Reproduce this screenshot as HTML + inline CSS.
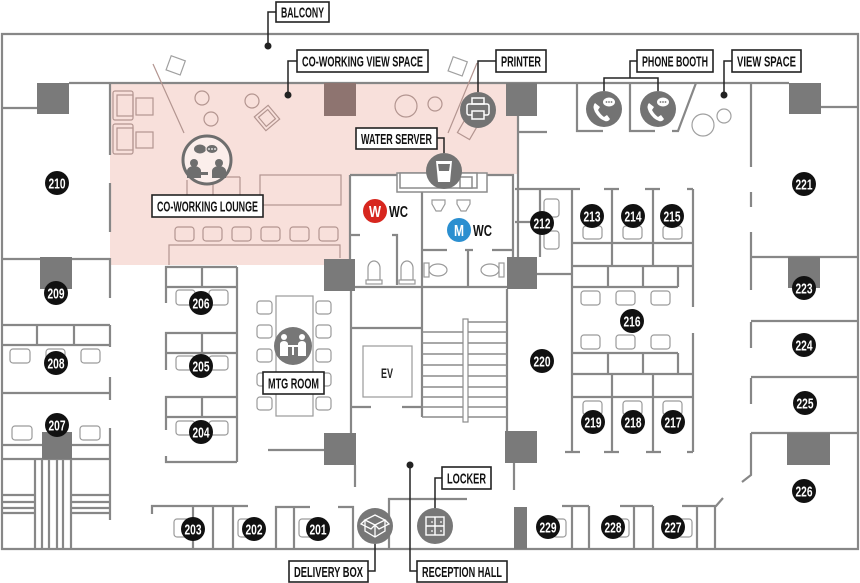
<!DOCTYPE html>
<html><head><meta charset="utf-8"><style>
html,body{margin:0;padding:0;background:#fff;}
svg{display:block}
text{font-family:"Liberation Sans Narrow","Liberation Sans",sans-serif;font-weight:bold;}
</style></head><body>
<svg width="860" height="583" viewBox="0 0 860 583" xmlns="http://www.w3.org/2000/svg">
<rect width="860" height="583" fill="#fff"/>
<polygon points="110,83 517,83 517,174 350,174 350,265 110,265" fill="#f8e0db"/>

<g stroke="#878787" stroke-width="2.2" fill="none">
<path d="M2,34 H858 V549 H2 Z"/>
<path d="M69,83 H789 M2,108 H37 M821,107 H858"/>
<path d="M110,83 V155 M110,183 V232 M110,258 V298 M110,325 V347 M110,377 V400 M110,428 V520"/>
<path d="M2,259 H110 M2,325 H110 M2,345 H110 M37,325 V345 M74,325 V345"/>
<path d="M2,393 H110 M2,445 H43 M72,445 H110 M2,459 H110"/>
<path d="M35,459 V549 M42,459 V549 M49,459 V549 M57,459 V549 M63,459 V549 M71,459 V549"/>
<path d="M2,495 H35 M2,502 H35 M2,508 H35 M2,513 H35 M71,495 H110 M71,502 H110 M71,508 H110 M71,513 H110"/>
<path d="M166,303 V267 H237 M166,287 H237 M202,267 V287"/>
<path d="M166,370 V333 H237 M166,353 H237 M202,333 V353"/>
<path d="M166,430 V397 H237 M166,417 H237 M202,397 V417 M166,456 V462 H237"/>
<path d="M237,267 V462"/>
<path d="M351,287 V433 M422,287 V417 M351,328 H422 M351,407 H371 M402,407 H422"/>
<path d="M268,450 H324 M355,465 V487 M389,549 V499 H467"/>
<path d="M276,549 V507 H310 M338,507 H353 V549 M294,507 V549"/>
<path d="M152,514 V506 H248 M193,506 V549 M213,506 V549 M233,506 V549"/>
<path d="M507,289 V431 M514,463 V490"/>
<path d="M350,175 V259 M350,175 H397 M487,175 H513 V257 M422,192 V287 M350,287 H507"/>
<path d="M397,285 V235 H392 M350,235 H360 M422,250 H447 M465,250 H473 M492,250 H513 M468,250 V287"/>
<path d="M518,116 V257 M518,132 H547"/>
<path d="M515,189 H580 M540,189 V257 M515,222 H540 M537,274 H572 M572,189 V452"/>
<path d="M604,189 H619 M645,189 H660 M687,189 H693 M612,189 V265 M653,189 V265 M693,189 V307 M572,243 H693 M572,266 H693"/>
<path d="M608,266 V287 M643,266 V287 M678,266 V287 M572,287 H678 M572,353 H678 M608,353 V374 M643,353 V374 M678,353 V374 M572,374 H693 M693,333 V452"/>
<path d="M572,397 H693 M612,374 V452 M653,374 V452 M565,452 H580 M604,452 H619 M646,452 H661 M687,452 H693"/>
<path d="M751,83 V167 M751,192 V207 M751,232 V290 M751,322 V348 M751,378 V404"/>
<path d="M751,257 H858 M751,321 H858 M751,377 H858 M751,433 H858 M751,433 V475 L742,482 M723,498 L716,506 H682 M715,506 V549 M697,506 V549"/>
<path d="M620,506 H653 M634,506 V549 M653,506 V549 M562,506 H589 M572,506 V549 M589,506 V549"/>
<path d="M577,83 V131 H603 M630,83 V131 H655 M672,131 H678 L696,83"/>
</g>

<g fill="#7a7a7a">
<rect x="37" y="83" width="32" height="31"/>
<rect x="506" y="83" width="31" height="33"/>
<rect x="789" y="83" width="32" height="31"/>
<rect x="40" y="257" width="32" height="32"/>
<rect x="42" y="432" width="30" height="27"/>
<rect x="324" y="259" width="31" height="32"/>
<rect x="507" y="257" width="30" height="32"/>
<rect x="324" y="433" width="32" height="32"/>
<rect x="505" y="431" width="32" height="32"/>
<rect x="788" y="257" width="32" height="31"/>
<rect x="787" y="433" width="43" height="32"/>
<rect x="514" y="507" width="13" height="42"/>
</g>
<rect x="324" y="83" width="32" height="33" fill="#8e7470"/>

<g stroke="#b39590" stroke-width="1.2" fill="none">
<rect x="113" y="91" width="20" height="29" rx="2"/><rect x="117" y="95" width="16" height="21"/>
<rect x="113" y="124" width="20" height="30" rx="2"/><rect x="117" y="128" width="16" height="22"/>
<rect x="136" y="98" width="17" height="17"/><rect x="136" y="132" width="17" height="16"/>
<circle cx="202" cy="98" r="7"/><circle cx="211" cy="119" r="7"/><circle cx="252" cy="101" r="7"/>
<circle cx="406" cy="106" r="11"/><circle cx="435" cy="104" r="7"/>
<g transform="rotate(-40 267 118)"><rect x="258" y="109" width="18" height="18"/><rect x="261" y="112" width="12" height="12"/></g>
<line x1="153" y1="64" x2="184" y2="133"/>
<line x1="448" y1="133" x2="477" y2="63"/>
<g transform="rotate(30 467 130)"><rect x="460" y="123" width="14" height="14"/></g>
<rect x="175" y="227" width="19" height="14" rx="3"/><rect x="203" y="227" width="19" height="14" rx="3"/>
<rect x="232" y="227" width="19" height="14" rx="3"/><rect x="261" y="227" width="19" height="14" rx="3"/>
<rect x="290" y="227" width="19" height="14" rx="3"/><rect x="319" y="227" width="19" height="14" rx="3"/>
<path d="M169,265 V245 H340 V258"/>
<path d="M187,180 V195 M213,177 V195 M240,177 V195 M213,177 H240"/>
<rect x="260" y="175" width="81" height="30"/>
</g>
<g stroke="#a0a0a0" stroke-width="1.2" fill="#fff">
<g transform="rotate(20 176 66)"><rect x="168" y="58" width="15" height="15"/></g>
<g transform="rotate(20 458 67)"><rect x="450" y="59" width="15" height="15"/></g>
<circle cx="703" cy="125" r="11" fill="none"/><circle cx="724" cy="116" r="7" fill="none"/>
</g>

<g stroke="#8c8c8c" stroke-width="1.5" fill="#fff">
<rect x="397" y="173" width="90" height="19"/>
<rect x="400" y="173" width="77" height="15"/>
<rect x="460" y="177" width="12" height="11"/>
</g>

<g stroke="#9a9a9a" stroke-width="1.2" fill="#fff">
<rect x="176" y="290" width="19" height="15" rx="3"/><rect x="209" y="290" width="19" height="15" rx="3"/>
<rect x="176" y="356" width="19" height="14" rx="3"/><rect x="209" y="356" width="19" height="14" rx="3"/>
<rect x="176" y="421" width="19" height="14" rx="3"/><rect x="209" y="421" width="19" height="14" rx="3"/>
<rect x="10" y="349" width="20" height="14" rx="3"/><rect x="46" y="349" width="19" height="14" rx="3"/><rect x="81" y="349" width="19" height="14" rx="3"/>
<rect x="12" y="426" width="20" height="14" rx="3"/><rect x="80" y="426" width="20" height="14" rx="3"/>
<rect x="276" y="296" width="37" height="120"/>
<rect x="257" y="301" width="15" height="13" rx="3"/><rect x="257" y="325" width="15" height="13" rx="3"/><rect x="257" y="349" width="15" height="13" rx="3"/><rect x="257" y="373" width="15" height="13" rx="3"/><rect x="257" y="397" width="15" height="13" rx="3"/>
<rect x="316" y="301" width="15" height="13" rx="3"/><rect x="316" y="325" width="15" height="13" rx="3"/><rect x="316" y="349" width="15" height="13" rx="3"/><rect x="316" y="373" width="15" height="13" rx="3"/><rect x="316" y="397" width="15" height="13" rx="3"/>
<rect x="544" y="199" width="15" height="18" rx="3"/><rect x="544" y="231" width="15" height="18" rx="3"/>
<rect x="583" y="226" width="19" height="13" rx="3"/><rect x="623" y="226" width="19" height="13" rx="3"/><rect x="663" y="226" width="19" height="13" rx="3"/>
<rect x="581" y="291" width="19" height="14" rx="3"/><rect x="616" y="291" width="19" height="14" rx="3"/><rect x="651" y="291" width="19" height="14" rx="3"/>
<rect x="581" y="335" width="19" height="14" rx="3"/><rect x="616" y="335" width="19" height="14" rx="3"/><rect x="651" y="335" width="19" height="14" rx="3"/>
<rect x="583" y="401" width="19" height="14" rx="3"/><rect x="623" y="401" width="19" height="14" rx="3"/><rect x="663" y="401" width="19" height="14" rx="3"/>
<rect x="174" y="519" width="19" height="18" rx="3"/><rect x="238" y="519" width="19" height="18" rx="3"/><rect x="299" y="519" width="19" height="18" rx="3"/>
<rect x="553" y="519" width="13" height="18" rx="3"/><rect x="617" y="519" width="12" height="18" rx="3"/><rect x="678" y="519" width="14" height="18" rx="3"/>
<path d="M368,280 V268 a6,7 0 0 1 12,0 V280 Z"/><rect x="366" y="280" width="16" height="4"/>
<path d="M401,280 V268 a6,7 0 0 1 12,0 V280 Z"/><rect x="399" y="280" width="16" height="4"/>
<path d="M432,200 H445 V204 L441,211 H436 L432,204 Z"/><path d="M457,200 H470 V204 L466,211 H461 L457,204 Z"/>
<ellipse cx="438" cy="270" rx="9" ry="6"/><rect x="424" y="263" width="5" height="14"/>
<ellipse cx="490" cy="270" rx="9" ry="6"/><rect x="499" y="263" width="5" height="14"/>
<rect x="363" y="346" width="49" height="51"/>
</g>
<g stroke="#8c8c8c" stroke-width="1.5">
<path d="M468,322 H507 M422,332 H507 M422,343 H507 M422,354 H507 M422,365 H507 M422,376 H507 M422,387 H507 M422,397 H507 M422,407 H507 M422,417 H507"/>
</g>
<rect x="463" y="319" width="5" height="103" fill="#fff" stroke="#8c8c8c" stroke-width="1.2"/>
<text x="381" y="378" font-size="14" fill="#222" textLength="12" lengthAdjust="spacingAndGlyphs">EV</text>

<circle cx="375" cy="211" r="12" fill="#d7261e"/>
<text x="369" y="217" font-size="16" fill="#fff" textLength="12" lengthAdjust="spacingAndGlyphs">W</text>
<text x="389" y="217" font-size="16" fill="#111" textLength="19" lengthAdjust="spacingAndGlyphs">WC</text>
<circle cx="459" cy="230" r="12" fill="#2b8fd0"/>
<text x="454" y="236" font-size="16" fill="#fff" textLength="10" lengthAdjust="spacingAndGlyphs">M</text>
<text x="473" y="236" font-size="16" fill="#111" textLength="19" lengthAdjust="spacingAndGlyphs">WC</text>

<g>
<circle cx="207" cy="160" r="24" fill="#fbeeeb" stroke="#6e6e6e" stroke-width="3"/>
<ellipse cx="200" cy="149" rx="6" ry="4.5" fill="#6e6e6e"/>
<ellipse cx="212" cy="149" rx="6" ry="4.5" fill="#6e6e6e" stroke="#fbeeeb" stroke-width="1"/>
<circle cx="209" cy="149" r="0.9" fill="#fff"/><circle cx="212" cy="149" r="0.9" fill="#fff"/><circle cx="215" cy="149" r="0.9" fill="#fff"/>
<circle cx="194" cy="163" r="4" fill="#6e6e6e"/><path d="M187,178 V171 a7,5 0 0 1 14,0 V178 Z" fill="#6e6e6e"/>
<circle cx="219" cy="163" r="4" fill="#6e6e6e"/><path d="M212,178 V171 a7,5 0 0 1 14,0 V178 Z" fill="#6e6e6e"/>
<rect x="196" y="172" width="12" height="3" fill="#6e6e6e"/>
<circle cx="478" cy="110" r="18" fill="#737373"/>
<rect x="472" y="98" width="12" height="6" fill="none" stroke="#fff" stroke-width="1.5"/>
<rect x="467" y="104" width="22" height="11" rx="2" fill="none" stroke="#fff" stroke-width="1.5"/>
<rect x="472" y="111" width="12" height="8" fill="#737373" stroke="#fff" stroke-width="1.5"/>
<circle cx="444" cy="171" r="18" fill="#737373"/>
<path d="M436,161 H452 L450,182 H438 Z" fill="#fff"/>
<path d="M438,164 H450 L449,171 H439 Z" fill="#737373"/>
<circle cx="604" cy="109" r="18" fill="#737373"/>
<circle cx="658" cy="109" r="18" fill="#737373"/>
<g fill="#fff">
<path d="M595,103 q-3,3 0,9 q4,7 10,9 q3,1 5,-2 l-3,-4 l-3,2 q-4,-3 -6,-7 l2,-3 z"/>
<ellipse cx="609" cy="102" rx="6" ry="4.5"/>
<path d="M649,103 q-3,3 0,9 q4,7 10,9 q3,1 5,-2 l-3,-4 l-3,2 q-4,-3 -6,-7 l2,-3 z"/>
<ellipse cx="663" cy="102" rx="6" ry="4.5"/>
</g>
<g fill="#737373"><circle cx="606.5" cy="102" r="0.9"/><circle cx="609" cy="102" r="0.9"/><circle cx="611.5" cy="102" r="0.9"/>
<circle cx="660.5" cy="102" r="0.9"/><circle cx="663" cy="102" r="0.9"/><circle cx="665.5" cy="102" r="0.9"/></g>
<circle cx="293" cy="346" r="19" fill="#777"/>
<g fill="#fff">
<circle cx="284" cy="337" r="3"/><path d="M280,356 V344 a4,3 0 0 1 8,0 V356 Z"/>
<circle cx="302" cy="337" r="3"/><path d="M298,356 V344 a4,3 0 0 1 8,0 V356 Z"/>
<rect x="287" y="345" width="12" height="2"/><rect x="292" y="347" width="2" height="8"/>
</g>
<circle cx="375" cy="526" r="18" fill="#777"/>
<g fill="none" stroke="#fff" stroke-width="1.3">
<path d="M375,515 L385,520 L375,525 L365,520 Z"/>
<path d="M365,520 V531 L375,537 L385,531 V520 M375,525 V537"/>
<path d="M365,520 L361,524 L371,529 L375,525 M385,520 L389,524 L379,529 L375,525"/>
</g>
<circle cx="435" cy="526" r="18" fill="#777"/>
<g fill="none" stroke="#fff" stroke-width="1.4">
<rect x="426" y="517" width="18" height="18"/>
<path d="M435,517 V535 M426,526 H444"/>
</g>
<g fill="#fff"><circle cx="432" cy="522" r="0.9"/><circle cx="441" cy="522" r="0.9"/><circle cx="432" cy="531" r="0.9"/><circle cx="441" cy="531" r="0.9"/></g>
</g>

<g stroke="#222" stroke-width="1.5" fill="none">
<path d="M276,12 H268 V46"/>
<path d="M297,61 H288 V95"/>
<path d="M496,61 H478 V92"/>
<path d="M637,61 H630 V78 M604,91 V78 H658 V91"/>
<path d="M732,61 H724 V95"/>
<path d="M437,138 H444 V153"/>
<path d="M442,478 H435 V508"/>
<path d="M375,544 V571 H368"/>
<path d="M410,465 V571 H417"/>
</g>
<g fill="#222">
<circle cx="268" cy="46" r="3.5"/><circle cx="288" cy="95" r="3.5"/><circle cx="724" cy="95" r="3.5"/><circle cx="410" cy="465" r="3.5"/>
</g>

<g fill="#fff" stroke="#222" stroke-width="1.6">
<rect x="276" y="2" width="53" height="20"/>
<rect x="297" y="50" width="131" height="22"/>
<rect x="496" y="50" width="50" height="22"/>
<rect x="637" y="50" width="76" height="22"/>
<rect x="732" y="50" width="69" height="22"/>
<rect x="356" y="128" width="81" height="21"/>
<rect x="152" y="195" width="111" height="22"/>
<rect x="263" y="372" width="61" height="22"/>
<rect x="442" y="467" width="49" height="22"/>
<rect x="289" y="561" width="79" height="21"/>
<rect x="417" y="561" width="90" height="21"/>
</g>
<g fill="#111" font-size="15">
<text x="281" y="17.5" textLength="43" lengthAdjust="spacingAndGlyphs">BALCONY</text>
<text x="302" y="66.5" textLength="121" lengthAdjust="spacingAndGlyphs">CO-WORKING VIEW SPACE</text>
<text x="501" y="66.5" textLength="40" lengthAdjust="spacingAndGlyphs">PRINTER</text>
<text x="642" y="66.5" textLength="66" lengthAdjust="spacingAndGlyphs">PHONE BOOTH</text>
<text x="737" y="66.5" textLength="59" lengthAdjust="spacingAndGlyphs">VIEW SPACE</text>
<text x="361" y="144" textLength="71" lengthAdjust="spacingAndGlyphs">WATER SERVER</text>
<text x="157" y="211.5" textLength="101" lengthAdjust="spacingAndGlyphs">CO-WORKING LOUNGE</text>
<text x="268" y="388.5" textLength="51" lengthAdjust="spacingAndGlyphs">MTG ROOM</text>
<text x="447" y="483.5" textLength="39" lengthAdjust="spacingAndGlyphs">LOCKER</text>
<text x="294" y="577" textLength="69" lengthAdjust="spacingAndGlyphs">DELIVERY BOX</text>
<text x="422" y="577" textLength="80" lengthAdjust="spacingAndGlyphs">RECEPTION HALL</text>
</g>

<g fill="#111">
<circle cx="57" cy="183" r="12"/><circle cx="56" cy="293" r="12"/><circle cx="56" cy="363" r="12"/><circle cx="57" cy="425" r="12"/>
<circle cx="201" cy="303" r="12"/><circle cx="201" cy="366" r="12"/><circle cx="201" cy="432" r="12"/>
<circle cx="193" cy="529" r="12"/><circle cx="254" cy="529" r="12"/><circle cx="318" cy="529" r="12"/>
<circle cx="548" cy="527" r="12"/><circle cx="613" cy="527" r="12"/><circle cx="673" cy="527" r="12"/>
<circle cx="542" cy="223" r="12"/><circle cx="592" cy="216" r="12"/><circle cx="633" cy="216" r="12"/><circle cx="672" cy="216" r="12"/>
<circle cx="632" cy="321" r="12"/><circle cx="542" cy="361" r="12"/>
<circle cx="593" cy="422" r="12"/><circle cx="633" cy="422" r="12"/><circle cx="673" cy="422" r="12"/>
<circle cx="804" cy="184" r="12"/><circle cx="804" cy="288" r="12"/><circle cx="804" cy="345" r="12"/><circle cx="805" cy="403" r="12"/><circle cx="804" cy="491" r="12"/>
</g>
<g fill="#fff" font-size="15">
<text x="48.5" y="188.5" textLength="17" lengthAdjust="spacingAndGlyphs">210</text>
<text x="47.5" y="298.5" textLength="17" lengthAdjust="spacingAndGlyphs">209</text>
<text x="47.5" y="368.5" textLength="17" lengthAdjust="spacingAndGlyphs">208</text>
<text x="48.5" y="430.5" textLength="17" lengthAdjust="spacingAndGlyphs">207</text>
<text x="192.5" y="308.5" textLength="17" lengthAdjust="spacingAndGlyphs">206</text>
<text x="192.5" y="371.5" textLength="17" lengthAdjust="spacingAndGlyphs">205</text>
<text x="192.5" y="437.5" textLength="17" lengthAdjust="spacingAndGlyphs">204</text>
<text x="184.5" y="534.5" textLength="17" lengthAdjust="spacingAndGlyphs">203</text>
<text x="245.5" y="534.5" textLength="17" lengthAdjust="spacingAndGlyphs">202</text>
<text x="309.5" y="534.5" textLength="17" lengthAdjust="spacingAndGlyphs">201</text>
<text x="539.5" y="532.5" textLength="17" lengthAdjust="spacingAndGlyphs">229</text>
<text x="604.5" y="532.5" textLength="17" lengthAdjust="spacingAndGlyphs">228</text>
<text x="664.5" y="532.5" textLength="17" lengthAdjust="spacingAndGlyphs">227</text>
<text x="533.5" y="228.5" textLength="17" lengthAdjust="spacingAndGlyphs">212</text>
<text x="583.5" y="221.5" textLength="17" lengthAdjust="spacingAndGlyphs">213</text>
<text x="624.5" y="221.5" textLength="17" lengthAdjust="spacingAndGlyphs">214</text>
<text x="663.5" y="221.5" textLength="17" lengthAdjust="spacingAndGlyphs">215</text>
<text x="623.5" y="326.5" textLength="17" lengthAdjust="spacingAndGlyphs">216</text>
<text x="533.5" y="366.5" textLength="17" lengthAdjust="spacingAndGlyphs">220</text>
<text x="584.5" y="427.5" textLength="17" lengthAdjust="spacingAndGlyphs">219</text>
<text x="624.5" y="427.5" textLength="17" lengthAdjust="spacingAndGlyphs">218</text>
<text x="664.5" y="427.5" textLength="17" lengthAdjust="spacingAndGlyphs">217</text>
<text x="795.5" y="189.5" textLength="17" lengthAdjust="spacingAndGlyphs">221</text>
<text x="795.5" y="293.5" textLength="17" lengthAdjust="spacingAndGlyphs">223</text>
<text x="795.5" y="350.5" textLength="17" lengthAdjust="spacingAndGlyphs">224</text>
<text x="796.5" y="408.5" textLength="17" lengthAdjust="spacingAndGlyphs">225</text>
<text x="795.5" y="496.5" textLength="17" lengthAdjust="spacingAndGlyphs">226</text>
</g>
</svg>
</body></html>
